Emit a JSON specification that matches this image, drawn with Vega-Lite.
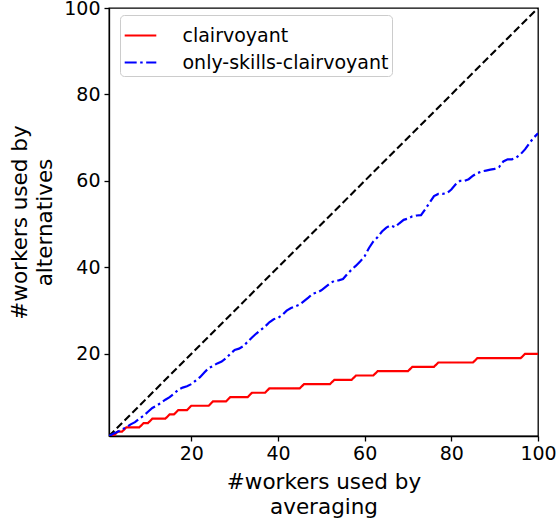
{
  "$schema": "https://vega.github.io/schema/vega-lite/v6.json",
  "width": 429,
  "height": 428,
  "autosize": {"type": "none"},
  "padding": {"left": 109, "top": 8, "right": 19, "bottom": 89},
  "background": "white",
  "config": {
    "font": "DejaVu Sans",
    "view": {"stroke": "black", "strokeWidth": 1.3},
    "axis": {
      "domainColor": "black", "tickColor": "black", "labelColor": "black", "titleColor": "black",
      "grid": false, "tickSize": 5, "labelFontSize": 19, "titleFontSize": 21.5, "titleFontWeight": "normal",
      "labelFont": "DejaVu Sans", "titleFont": "DejaVu Sans", "domainWidth": 1.3, "tickWidth": 1.3, "titleLineHeight": 25,
      "labelFlush": false
    }
  },
  "layer": [
    {
      "data": {"values": [{"x": 1, "y": 1}, {"x": 100, "y": 100}]},
      "mark": {"type": "line", "color": "black", "strokeDash": [7.5, 3.5], "strokeWidth": 2.1, "clip": true},
      "encoding": {
        "x": {"field": "x", "type": "quantitative", "scale": {"domain": [1, 100], "nice": false, "zero": false},
          "axis": {"values": [20, 40, 60, 80, 100], "title": ["#workers used by", "averaging"], "titlePadding": 8, "labelPadding": 3}},
        "y": {"field": "y", "type": "quantitative", "scale": {"domain": [1, 100], "nice": false, "zero": false},
          "axis": {"values": [20, 40, 60, 80, 100], "title": ["#workers used by", "alternatives"], "titlePadding": 7, "labelPadding": 4}}
      }
    },
    {
      "data": {"values": [
        {"x":1,"c":1,"o":1},{"x":2,"c":1,"o":1.5},{"x":3,"c":2,"o":2},{"x":4,"c":2,"o":2.5},{"x":5,"c":3,"o":3},
        {"x":6,"c":3,"o":3.7},{"x":7,"c":3,"o":4.2},{"x":8,"c":3,"o":5},{"x":9,"c":4,"o":5.7},{"x":10,"c":4,"o":6.6},
        {"x":11,"c":5,"o":7.5},{"x":12,"c":5,"o":8},{"x":13,"c":5,"o":8.7},{"x":14,"c":5,"o":9.4},{"x":15,"c":6,"o":10},
        {"x":16,"c":6,"o":10.8},{"x":17,"c":7,"o":11.7},{"x":18,"c":7,"o":12.2},{"x":19,"c":7,"o":12.5},{"x":20,"c":8,"o":13},
        {"x":21,"c":8,"o":13.8},{"x":22,"c":8,"o":14.6},{"x":23,"c":8,"o":15.7},{"x":24,"c":8,"o":16.7},{"x":25,"c":9,"o":17.2},
        {"x":26,"c":9,"o":17.8},{"x":27,"c":9,"o":18.2},{"x":28,"c":9,"o":19},{"x":29,"c":10,"o":20},{"x":30,"c":10,"o":20.9},
        {"x":31,"c":10,"o":21.2},{"x":32,"c":10,"o":21.8},{"x":33,"c":10,"o":22.8},{"x":34,"c":11,"o":23.8},{"x":35,"c":11,"o":24.7},
        {"x":36,"c":11,"o":25.5},{"x":37,"c":11,"o":26.3},{"x":38,"c":12,"o":27.3},{"x":39,"c":12,"o":28},{"x":40,"c":12,"o":28.3},
        {"x":41,"c":12,"o":29},{"x":42,"c":12,"o":30},{"x":43,"c":12,"o":30.6},{"x":44,"c":12,"o":31},{"x":45,"c":12,"o":31.4},
        {"x":46,"c":13,"o":32.2},{"x":47,"c":13,"o":33},{"x":48,"c":13,"o":33.9},{"x":49,"c":13,"o":34.2},{"x":50,"c":13,"o":34.7},
        {"x":51,"c":13,"o":35.5},{"x":52,"c":13,"o":36.3},{"x":53,"c":14,"o":36.9},{"x":54,"c":14,"o":37},{"x":55,"c":14,"o":37.3},
        {"x":56,"c":14,"o":38.5},{"x":57,"c":14,"o":39.5},{"x":58,"c":15,"o":40.4},{"x":59,"c":15,"o":41.4},{"x":60,"c":15,"o":42.6},
        {"x":61,"c":15,"o":44.5},{"x":62,"c":15,"o":46},{"x":63,"c":16,"o":47},{"x":64,"c":16,"o":48.3},{"x":65,"c":16,"o":49.2},
        {"x":66,"c":16,"o":49.7},{"x":67,"c":16,"o":49.3},{"x":68,"c":16,"o":50.2},{"x":69,"c":16,"o":51},{"x":70,"c":16,"o":51.3},
        {"x":71,"c":17,"o":51.8},{"x":72,"c":17,"o":52},{"x":73,"c":17,"o":52.1},{"x":74,"c":17,"o":53.5},{"x":75,"c":17,"o":55},
        {"x":76,"c":17,"o":56.5},{"x":77,"c":18,"o":57},{"x":78,"c":18,"o":57},{"x":79,"c":18,"o":57.2},{"x":80,"c":18,"o":58},
        {"x":81,"c":18,"o":59.2},{"x":82,"c":18,"o":60},{"x":83,"c":18,"o":60},{"x":84,"c":18,"o":60.4},{"x":85,"c":18,"o":61.2},
        {"x":86,"c":19,"o":61.8},{"x":87,"c":19,"o":62.2},{"x":88,"c":19,"o":62.4},{"x":89,"c":19,"o":62.6},{"x":90,"c":19,"o":62.8},
        {"x":91,"c":19,"o":63.2},{"x":92,"c":19,"o":64.5},{"x":93,"c":19,"o":65},{"x":94,"c":19,"o":65},{"x":95,"c":19,"o":65.4},
        {"x":96,"c":19,"o":66.2},{"x":97,"c":20,"o":67.3},{"x":98,"c":20,"o":68.7},{"x":99,"c":20,"o":70},{"x":100,"c":20,"o":71}
      ]},
      "transform": [
        {"fold": ["c", "o"], "as": ["key", "y"]},
        {"lookup": "key", "from": {"data": {"values": [{"key": "c", "series": "clairvoyant"}, {"key": "o", "series": "only-skills-clairvoyant"}]}, "key": "key", "fields": ["series"]}}
      ],
      "mark": {"type": "line", "strokeWidth": 2.2, "clip": true},
      "encoding": {
        "x": {"field": "x", "type": "quantitative"},
        "y": {"field": "y", "type": "quantitative"},
        "detail": {"field": "series"},
        "color": {"field": "series", "type": "nominal",
          "scale": {"domain": ["clairvoyant", "only-skills-clairvoyant"], "range": ["#ff0000", "#0000ff"]},
          "legend": {"title": null, "orient": "none", "legendX": 11, "legendY": 7, "symbolType": "stroke",
            "symbolSize": 1000, "symbolStrokeWidth": 2.2, "labelFontSize": 19, "labelFont": "DejaVu Sans", "labelColor": "black",
            "labelLimit": 400, "labelOffset": 25, "strokeColor": "#cccccc", "fillColor": "white", "cornerRadius": 4, "padding": 3.5, "rowPadding": -2.6}},
        "strokeDash": {"field": "series", "type": "nominal",
          "scale": {"domain": ["clairvoyant", "only-skills-clairvoyant"], "range": [[1, 0], [12, 3.5, 2.5, 3.5]]},
          "legend": {"title": null, "orient": "none", "legendX": 11, "legendY": 7, "symbolType": "stroke",
            "symbolSize": 1000, "symbolStrokeWidth": 2.2, "labelFontSize": 19, "labelFont": "DejaVu Sans", "labelColor": "black",
            "labelLimit": 400, "labelOffset": 25, "strokeColor": "#cccccc", "fillColor": "white", "cornerRadius": 4, "padding": 3.5, "rowPadding": -2.6}}
      }
    }
  ]
}
